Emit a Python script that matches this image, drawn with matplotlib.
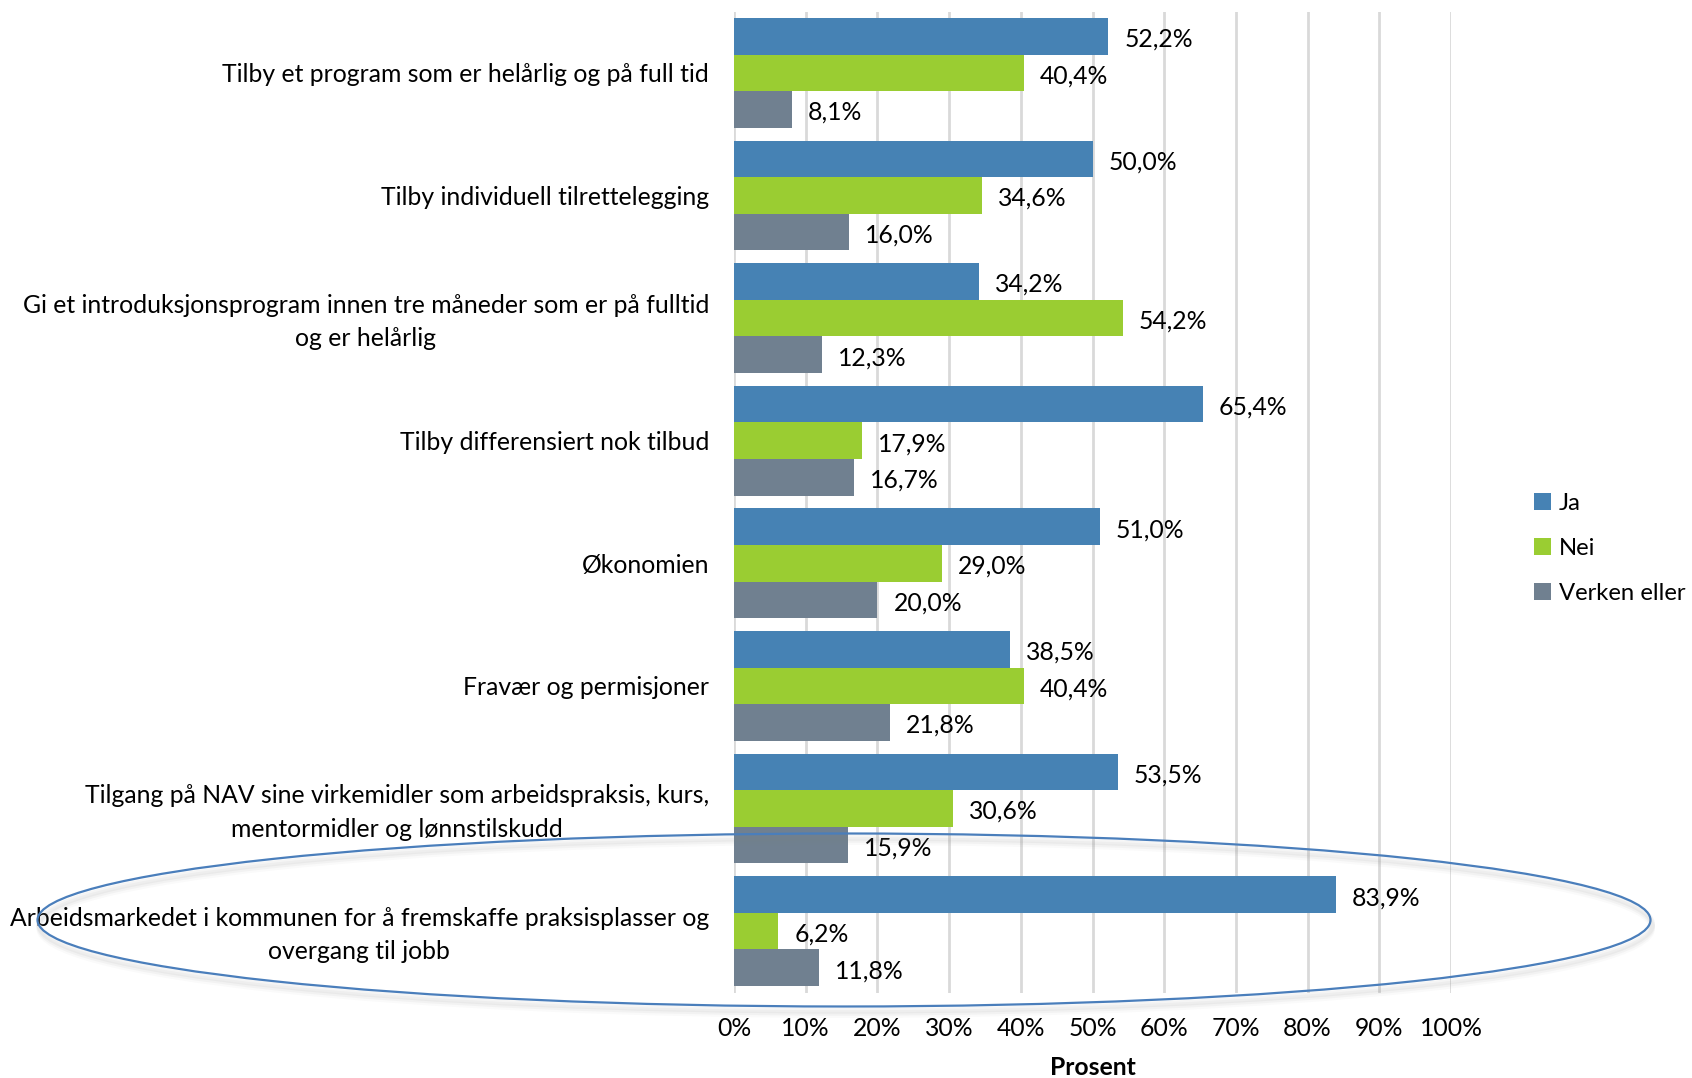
import matplotlib
matplotlib.use('Agg')
import matplotlib.pyplot as plt
import numpy as np
from matplotlib.patches import Ellipse

plt.rcParams['font.family'] = ['Lato', 'DejaVu Sans']

categories = [
    'Tilby et program som er helårlig og på full tid',
    'Tilby individuell tilrettelegging',
    'Gi et introduksjonsprogram innen tre måneder som er på fulltid\nog er helårlig',
    'Tilby differensiert nok tilbud',
    'Økonomien',
    'Fravær og permisjoner',
    'Tilgang på NAV sine virkemidler som arbeidspraksis, kurs,\nmentormidler og lønnstilskudd',
    'Arbeidsmarkedet i kommunen for å fremskaffe praksisplasser og\novergang til jobb',
]
ja = [52.2, 50.0, 34.2, 65.4, 51.0, 38.5, 53.5, 83.9]
nei = [40.4, 34.6, 54.2, 17.9, 29.0, 40.4, 30.6, 6.2]
verken = [8.1, 16.0, 12.3, 16.7, 20.0, 21.8, 15.9, 11.8]
series = [('Ja', ja, '#4682b4'), ('Nei', nei, '#9acd32'),
          ('Verken eller', verken, '#708090')]
xticks = list(range(0, 101, 10))

FS = 17.8
W, H = 1692, 1078
fig = plt.figure(figsize=(W / 100, H / 100), dpi=100)
ax = fig.add_axes([734 / W, 1 - 992.5 / H, (1451 - 734) / W, (992.5 - 11.5) / H])

n = len(categories)
y = np.arange(n)
bh = 0.298
handles = []
for i, (name, vals, col) in enumerate(series):
    pos = y + (i - 1) * bh
    b = ax.barh(pos, vals, height=bh, color=col, label=name, zorder=3)
    handles.append(b)
    for p, v in zip(pos, vals):
        ax.annotate(f'{v:.1f}%'.replace('.', ','), (v, p), xytext=(16, -3),
                    textcoords='offset pixels', va='center', ha='left',
                    fontsize=FS, zorder=4)

ax.set_ylim(n - 0.5, -0.5)
ax.set_xlim(0, 100)
ax.set_xticks(xticks)
ax.set_xticklabels([f'{t}%' for t in xticks], fontsize=FS)
ax.set_yticks([])
# category labels right of the axis, two-line ones centred
for yi, lab in zip(y, categories):
    dy = -4 if '\n' in lab else -2
    ax.annotate(lab, (0, yi), xycoords=ax.get_yaxis_transform(), xytext=(-25, dy),
                textcoords='offset pixels', ha='right', va='center',
                multialignment='center', linespacing=1.55, fontsize=FS)
ax.tick_params(axis='both', length=0)
ax.tick_params(axis='x', pad=18)
ax.grid(axis='x', color='#d9d9d9', linewidth=2, zorder=0)
for s in ax.spines.values():
    s.set_visible(False)
ax.set_xlabel('Prosent', fontsize=FS, fontweight='bold', labelpad=11)

fig.legend(handles=handles, loc='upper left', bbox_to_anchor=(1524 / W, 1 - 483 / H),
           frameon=False, fontsize=17.2, handlelength=0.72, handleheight=0.72,
           handletextpad=0.35, labelspacing=1.02, borderaxespad=0)

# highlight ellipse with a soft shadow
cx, cy, ew, eh = 844 / W, 1 - 920 / H, 1613 / W, 173 / H
for k, a in enumerate([0.08, 0.06, 0.04]):
    fig.patches.append(Ellipse((cx + 0.001, cy - 0.004 - 0.002 * k), ew, eh,
                               transform=fig.transFigure, fill=False,
                               edgecolor='gray', alpha=a, linewidth=4, zorder=5))
fig.patches.append(Ellipse((cx, cy), ew, eh, transform=fig.transFigure, fill=False,
                           edgecolor='#4a7ebb', linewidth=1.6, zorder=6))

fig.savefig('out.png', dpi=100)
